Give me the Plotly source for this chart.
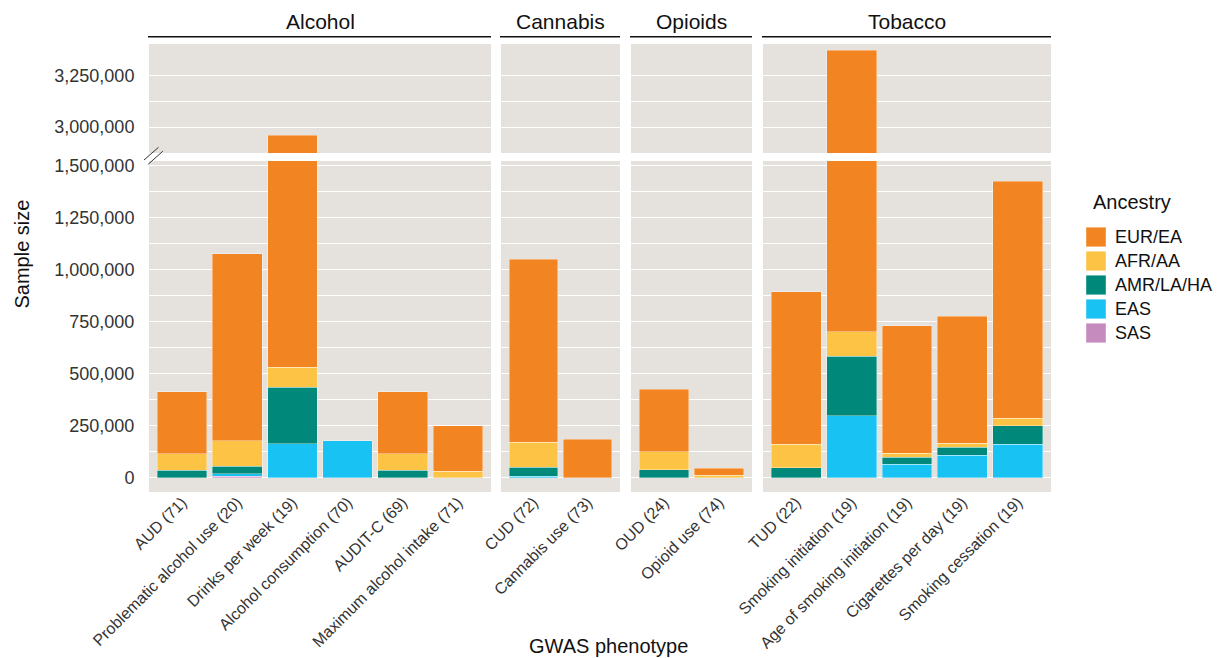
import plotly.graph_objects as go

# ---------------- data (values in persons) ----------------
panels = ["Alcohol", "Cannabis", "Opioids", "Tobacco"]

alcohol_cats = ["AUD (71)", "Problematic alcohol use (20)", "Drinks per week (19)",
                "Alcohol consumption (70)", "AUDIT-C (69)", "Maximum alcohol intake (71)"]
cannabis_cats = ["CUD (72)", "Cannabis use (73)"]
opioid_cats = ["OUD (24)", "Opioid use (74)"]
tobacco_cats = ["TUD (22)", "Smoking initiation (19)", "Age of smoking initiation (19)",
                "Cigarettes per day (19)", "Smoking cessation (19)"]

ancestries = ["EUR/EA", "AFR/AA", "AMR/LA/HA", "EAS", "SAS"]
colors = {"EUR/EA": "#F28522", "AFR/AA": "#FDC344", "AMR/LA/HA": "#00897B",
          "EAS": "#18C2F3", "SAS": "#C58BBF"}

alcohol_vals = {
    "EUR/EA":    [297000, 898000, 2430000, 0, 297000, 217000],
    "AFR/AA":    [80000, 124000, 97000, 0, 80000, 31000],
    "AMR/LA/HA": [35000, 36000, 272000, 0, 35000, 0],
    "EAS":       [0, 11000, 162000, 177000, 0, 0],
    "SAS":       [0, 6000, 0, 0, 0, 0],
}
cannabis_vals = {
    "EUR/EA":    [881000, 185000],
    "AFR/AA":    [120000, 0],
    "AMR/LA/HA": [43000, 0],
    "EAS":       [6000, 0],
    "SAS":       [0, 0],
}
opioid_vals = {
    "EUR/EA":    [301000, 32000],
    "AFR/AA":    [86000, 12000],
    "AMR/LA/HA": [38000, 0],
    "EAS":       [0, 0],
    "SAS":       [0, 0],
}
tobacco_vals = {
    "EUR/EA":    [732000, 2672000, 613000, 612000, 1140000],
    "AFR/AA":    [114000, 116000, 19000, 19000, 36000],
    "AMR/LA/HA": [46000, 288000, 34000, 37000, 89000],
    "EAS":       [0, 296000, 63000, 108000, 160000],
    "SAS":       [0, 0, 0, 0, 0],
}

lower_ticks = [0, 250000, 500000, 750000, 1000000, 1250000, 1500000]
upper_ticks = [3000000, 3250000]
upper_minor = [2875000, 3125000]

panel_cats = [alcohol_cats, cannabis_cats, opioid_cats, tobacco_cats]
panel_vals = [alcohol_vals, cannabis_vals, opioid_vals, tobacco_vals]

# ---------------- layout geometry ----------------
PL, PR, PT, PB = 149, 1051, 44, 492
PW, PH = PR - PL, PB - PT
def px_x(p):
    return (p - PL) / PW
def px_y(p):
    return (PB - p) / PH

panel_px = [(149, 491), (501, 620), (631, 752), (763, 1051)]
lower_dom = [0, px_y(161)]
upper_dom = [px_y(153), 1]
lower_range = [-(492 - 477.5) / 208 * 1e6, (477.5 - 161) / 208 * 1e6]
upper_range = [3000000 - (153 - 127) / 206 * 1e6, 3000000 + (127 - 44) / 206 * 1e6]

FONT = "Liberation Sans, Arial, Helvetica, sans-serif"
BG = "#E5E2DD"
INK = "#111111"

fig = go.Figure()

def nz(v):
    return [x if x else None for x in v]

for i, (cats, vals) in enumerate(zip(panel_cats, panel_vals)):
    for row in ("lower", "upper"):
        xa = f"x{i + 1}" if row == "lower" else f"x{i + 5}"
        ya = "y" if row == "lower" else "y2"
        for anc in ["SAS", "EAS", "AMR/LA/HA", "AFR/AA", "EUR/EA"]:
            fig.add_trace(go.Bar(
                x=cats, y=nz(vals[anc]), name=anc, xaxis=xa, yaxis=ya,
                marker=dict(color=colors[anc], line=dict(color="rgba(255,255,255,0.45)", width=0.8)),
                width=0.9, showlegend=False, hoverinfo="x+y+name"))

layout = dict(
    width=1220, height=658,
    margin=dict(l=PL, r=1220 - PR, t=PT, b=658 - PB, pad=0, autoexpand=False),
    paper_bgcolor="white", plot_bgcolor=BG,
    barmode="stack", bargap=0.1,
    font=dict(family=FONT, color="#333333", size=16),
    showlegend=False,
)

for i, (cats, (a, b)) in enumerate(zip(panel_cats, panel_px)):
    n = len(cats)
    dom = [px_x(a), px_x(b)]
    common = dict(domain=dom, range=[-0.6, n - 0.4], type="category",
                  categoryorder="array", categoryarray=cats, showgrid=False,
                  zeroline=False, showline=False, fixedrange=True, automargin=False)
    layout[f"xaxis{i + 1}"] = dict(**common, anchor="y", tickangle=-45,
                                   tickfont=dict(family=FONT, size=16, color="#333333"),
                                   ticks="", ticklabelstandoff=-3)
    layout[f"xaxis{i + 5}"] = dict(**common, anchor="y2", showticklabels=False, ticks="")

yc = dict(zeroline=False, showline=False, gridcolor="white", gridwidth=1.4,
          tickformat=",", tickfont=dict(family=FONT, size=18, color="#333333"),
          ticks="outside", ticklen=10, tickcolor="rgba(0,0,0,0)",
          fixedrange=True, automargin=False)
layout["yaxis"] = dict(**yc, domain=lower_dom, range=lower_range, anchor="x1",
                       tickmode="array", tickvals=lower_ticks,
                       minor=dict(showgrid=True, gridcolor="white", gridwidth=0.7,
                                  dtick=125000, tick0=0, ticks=""))
layout["yaxis2"] = dict(**yc, domain=upper_dom, range=upper_range, anchor="x5",
                        tickmode="array", tickvals=upper_ticks,
                        minor=dict(showgrid=True, gridcolor="white", gridwidth=0.7,
                                   tickmode="array", tickvals=upper_minor, ticks=""))
fig.update_layout(**layout)

# facet strips
for name, (a, b) in zip(panels, panel_px):
    fig.add_shape(type="line", xref="paper", yref="paper",
                  x0=px_x(a - 1), x1=px_x(b), y0=px_y(36.7), y1=px_y(36.7),
                  line=dict(color=INK, width=1.5))
    fig.add_annotation(text=name, xref="paper", yref="paper",
                       x=px_x((a + b) / 2), y=px_y(21.5), showarrow=False,
                       xanchor="center", yanchor="middle",
                       font=dict(size=21, color=INK))

# axis break marks
for (x0, y0, x1, y1) in [(144, 160, 158.5, 147.3), (148.3, 164.2, 162.8, 151.2)]:
    fig.add_shape(type="line", xref="paper", yref="paper",
                  x0=px_x(x0), y0=px_y(y0), x1=px_x(x1), y1=px_y(y1),
                  line=dict(color="#333333", width=1))

# legend (drawn as swatches + labels)
fig.add_annotation(text="Ancestry", xref="paper", yref="paper",
                   x=px_x(1091), y=px_y(201.5), showarrow=False,
                   xanchor="left", yanchor="middle", font=dict(size=20, color=INK))
for k, anc in enumerate(ancestries):
    cy = 237 + 24 * k
    fig.add_shape(type="rect", xref="paper", yref="paper",
                  x0=px_x(1086), x1=px_x(1106), y0=px_y(cy - 9.8), y1=px_y(cy + 9.8),
                  fillcolor=colors[anc], line=dict(color="rgba(255,255,255,0.5)", width=0.8))
    fig.add_annotation(text=anc, xref="paper", yref="paper",
                       x=px_x(1113), y=px_y(cy), showarrow=False,
                       xanchor="left", yanchor="middle", font=dict(size=18, color=INK))

# axis titles
fig.add_annotation(text="Sample size", xref="paper", yref="paper",
                   x=px_x(21), y=px_y(254.5), textangle=-90, showarrow=False,
                   xanchor="center", yanchor="middle",
                   font=dict(size=20, color=INK))
fig.add_annotation(text="GWAS phenotype", xref="paper", yref="paper",
                   x=px_x(608), y=px_y(646), showarrow=False,
                   xanchor="center", yanchor="middle",
                   font=dict(size=20, color=INK))

fig.write_html("out.html")
